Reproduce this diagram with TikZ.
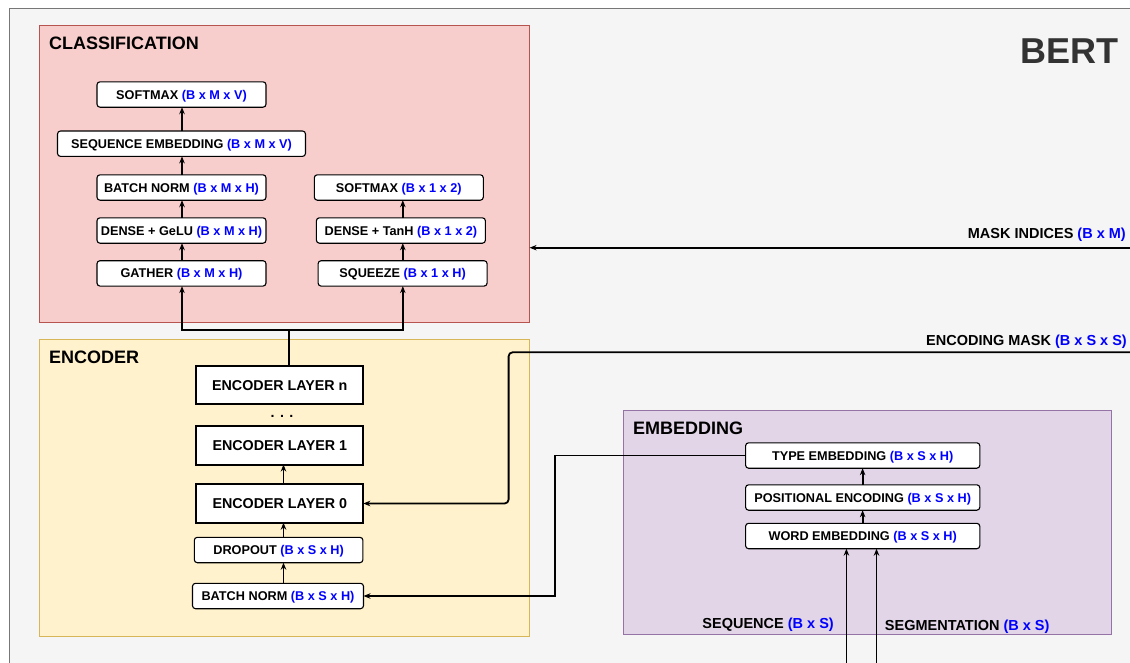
\documentclass[tikz,border=0pt]{standalone}
\usepackage{fontspec}
\setmainfont{Liberation Sans}
\usetikzlibrary{arrows.meta,calc}

\definecolor{dimblue}{RGB}{0,0,255}
\definecolor{outerfill}{HTML}{F5F5F5}
\definecolor{outerline}{HTML}{777777}
\definecolor{clsfill}{HTML}{F8CECC}
\definecolor{clsline}{HTML}{B85450}
\definecolor{encfill}{HTML}{FFF2CC}
\definecolor{encline}{HTML}{D6B656}
\definecolor{embfill}{HTML}{E1D5E7}
\definecolor{embline}{HTML}{9673A6}
\definecolor{titlegray}{HTML}{333333}

% tensor shape annotation
\newcommand\shp[1]{\textcolor{dimblue}{#1}}

\begin{document}
\begin{tikzpicture}[x=1pt,y=-1pt,
  grp/.style={draw, line width=0.9pt, anchor=north west, inner sep=0pt, outer sep=0pt},
  grptitle/.style={anchor=west, inner sep=0pt, text height=12.9pt, text depth=0pt,
    font=\fontsize{18}{20}\selectfont\bfseries},
  op/.style={draw, fill=white, rounded corners=3pt, line width=1.1pt,
    minimum height=25.4pt, inner xsep=2pt, inner ysep=0pt, outer sep=0pt,
    text height=9.1pt, text depth=0pt,
    font=\fontsize{12.7}{14}\selectfont\bfseries},
  layer/.style={draw, fill=white, line width=2pt, minimum width=167pt,
    minimum height=38.4pt, inner sep=0pt, outer sep=0pt,
    text height=10.24pt, text depth=0pt,
    font=\fontsize{14.3}{16}\selectfont\bfseries},
  lbl/.style={inner sep=0pt, text height=10.4pt, text depth=0pt,
    font=\fontsize{14.5}{16}\selectfont\bfseries},
  link/.style={line width=1.8pt},
  arr/.style={line width=1.8pt, -{Stealth[length=7pt,width=5.5pt]}},
]
\useasboundingbox (0,0) rectangle (1130,662);
\clip (0,0) rectangle (1130,662);
\fill[white] (0,0) rectangle (1130,662);

% outer container
\draw[fill=outerfill, draw=outerline, line width=1.2pt] (9.8,8.4) rectangle (1140,672);
\node[anchor=east, inner sep=0pt, text height=25.8pt, text depth=0pt,
  text=titlegray, font=\fontsize{36}{40}\selectfont\bfseries] (bert) at (1119,51) {BERT};

% ---------- groups ----------
\node[grp, fill=clsfill, draw=clsline, minimum width=490.3pt, minimum height=297.3pt] (cls) at (39.3,25) {};
\node[grp, fill=encfill, draw=encline, minimum width=490.3pt, minimum height=297pt] (enc) at (39.3,339) {};
\node[grp, fill=embfill, draw=embline, minimum width=488.1pt, minimum height=224pt] (emb) at (623.5,410) {};

\node[grptitle] (clst) at (49,42.7) {CLASSIFICATION};
\node[grptitle] (enct) at (49,356.7) {ENCODER};
\node[grptitle] (embt) at (633,427.7) {EMBEDDING};

% ---------- classification head ----------
\node[op, minimum width=169pt] (sm1) at (181.5,94.5) {SOFTMAX \shp{(B x M x V)}};
\node[op, minimum width=248pt] (seq) at (181.5,143.7) {SEQUENCE EMBEDDING \shp{(B x M x V)}};
\node[op, minimum width=169pt] (bn1) at (181.5,187.5) {BATCH NORM \shp{(B x M x H)}};
\node[op, minimum width=169pt] (dg)  at (181.5,230.5) {DENSE + GeLU \shp{(B x M x H)}};
\node[op, minimum width=169pt] (ga)  at (181.5,273.4) {GATHER \shp{(B x M x H)}};

\node[op, minimum width=169pt] (sm2) at (398.8,187.5) {SOFTMAX \shp{(B x 1 x 2)}};
\node[op, minimum width=169pt] (dt)  at (400.9,230.5) {DENSE + TanH \shp{(B x 1 x 2)}};
\node[op, minimum width=169pt] (sq)  at (402.6,273.4) {SQUEEZE \shp{(B x 1 x H)}};

% ---------- encoder ----------
\node[layer] (ln) at (279.8,384.9) {ENCODER LAYER n};
\node[anchor=base, inner sep=0pt, font=\fontsize{14.3}{16}\selectfont\bfseries] (dots) at (282,417.5) {. . .};
\node[layer] (l1) at (279.8,445.3) {ENCODER LAYER 1};
\node[layer] (l0) at (279.8,503.5) {ENCODER LAYER 0};
\node[op, minimum width=168.6pt] (dr)  at (278.6,550) {DROPOUT \shp{(B x S x H)}};
\node[op, minimum width=171pt]   (bn2) at (278,596) {BATCH NORM \shp{(B x S x H)}};

% ---------- embedding ----------
\node[op, minimum width=234.2pt] (te) at (862.7,455.5) {TYPE EMBEDDING \shp{(B x S x H)}};
\node[op, minimum width=234.2pt] (pe) at (862.7,497.5) {POSITIONAL ENCODING \shp{(B x S x H)}};
\node[op, minimum width=234.2pt] (we) at (862.7,536) {WORD EMBEDDING \shp{(B x S x H)}};

% ---------- input labels ----------
\node[lbl, anchor=east] (milbl)  at (1126,233.3) {MASK INDICES \shp{(B x M)}};
\node[lbl, anchor=east] (emlbl)  at (1127,340)   {ENCODING MASK \shp{(B x S x S)}};
\node[lbl, anchor=east] (seqlbl) at (834,623.3)  {SEQUENCE \shp{(B x S)}};
\node[lbl, anchor=west] (seglbl) at (884.7,625)  {SEGMENTATION \shp{(B x S)}};

% ---------- connector guides ----------
\coordinate (lx) at (182,0);
\coordinate (rx) at (402.8,0);
\coordinate (ax) at (283.5,0);
\coordinate (ex) at (862.6,0);
\coordinate (mx) at (508.6,0);
\coordinate (tx) at (554.6,0);
\coordinate (split) at (289.3,330);
\coordinate (miin) at (1135,247.7);
\coordinate (emin) at (1135,352.3);
\coordinate (seqin) at (846.4,670);
\coordinate (segin) at (876.5,670);

% classification stacks
\draw[arr] (ga.north -| lx)  -- (dg.south -| lx);
\draw[arr] (dg.north -| lx)  -- (bn1.south -| lx);
\draw[arr] (bn1.north -| lx) -- (seq.south -| lx);
\draw[arr] (seq.north -| lx) -- (sm1.south -| lx);
\draw[arr] (sq.north -| rx)  -- (dt.south -| rx);
\draw[arr] (dt.north -| rx)  -- (sm2.south -| rx);

% encoder output feeds both heads
\draw[link] (ln.north -| split) -- (split);
\draw[arr] (split) -| (ga.south -| lx);
\draw[arr] (split) -| (sq.south -| rx);

% encoder stack
\draw[arr] (bn2.north -| ax) -- (dr.south -| ax);
\draw[arr] (dr.north -| ax)  -- (l0.south -| ax);
\draw[arr] (l0.north -| ax)  -- (l1.south -| ax);

% embedding stack
\draw[arr] (we.north -| ex) -- (pe.south -| ex);
\draw[arr] (pe.north -| ex) -- (te.south -| ex);
\draw[arr] (seqin) -- (seqin |- we.south);
\draw[arr] (segin) -- (segin |- we.south);

% embedding output into the encoder
\draw[arr] (te.west) -- (te.west -| tx) -- (bn2.east -| tx) -- (bn2.east);

% external inputs
\draw[arr] (miin) -- (miin -| cls.east);
\draw[arr, rounded corners=4pt] (emin) -- (emin -| mx) -- (l0.east -| mx) -- (l0.east);
\end{tikzpicture}
\end{document}
